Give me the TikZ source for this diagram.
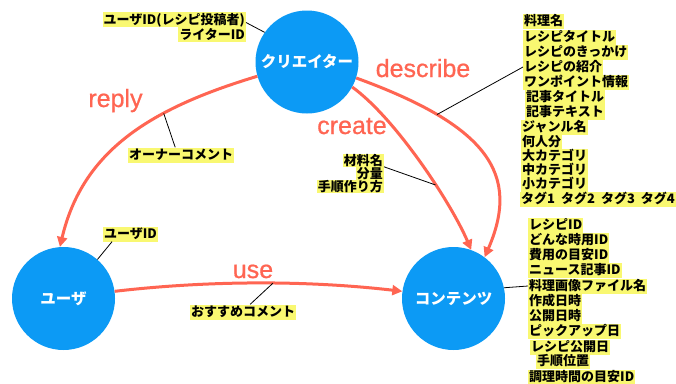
\documentclass[tikz,border=0pt]{standalone}
\usepackage{fontspec}
\setmainfont{Noto Sans CJK JP}
\newfontfamily\latfont[FakeBold=0.7]{Liberation Sans}
\usetikzlibrary{arrows.meta}
\definecolor{cblue}{HTML}{0C9AF5}
\definecolor{cred}{HTML}{FF6552}
\definecolor{cyel}{HTML}{F9F871}
\begin{document}
\begin{tikzpicture}[x=1pt,y=-1pt,
  ent/.style={circle, fill=cblue, minimum size=103pt, inner sep=0pt, text=white,
    font=\bfseries\fontsize{15.5}{17}\selectfont},
  rel/.style={draw=cred, line width=3pt, -{Triangle[length=10pt,width=10pt]}},
  rlab/.style={text=cred, font=\latfont\fontsize{25}{28}\selectfont, anchor=base, inner sep=0pt},
  attr/.style={fill=cyel, font=\bfseries\fontsize{13}{15}\selectfont, inner xsep=1pt,
    inner ysep=1pt, text height=11pt, text depth=2pt},
  attrw/.style={attr, anchor=west},
  attre/.style={attr, anchor=east},
  tight/.style={attr, anchor=east, inner ysep=0pt},
  lead/.style={draw=black, line width=0.8pt}]
\useasboundingbox (0,0) rectangle (676,383);
\fill[white] (0,0) rectangle (676,383);

% entities
\node[ent] (creator) at (307,62) {クリエイター};
\node[ent] (user) at (63.5,298.5) {ユーザ};
\node[ent] (content) at (453.5,298.5) {コンテンツ};

% relations
\draw[rel] (creator.196) .. controls +(-106,32) and +(23,-97) .. coordinate[pos=0.335] (pr) (user.94);
\draw[rel] (creator.331) .. controls +(43,31) and +(-20,-47) .. coordinate[pos=0.62] (pc) (content.70);
\draw[rel] (creator.342) .. controls +(132,48) and +(36,-83) .. coordinate[pos=0.25] (pd) (content.53);
\draw[rel] (user.8) .. controls +(95,-11) and +(-95,-11) .. coordinate[pos=0.55] (pu) (content.172);

\node[rlab] (lreply) at (115.5,107) {reply};
\node[rlab] (ldescribe) at (423,77) {describe};
\node[rlab] (lcreate) at (352,134) {create};
\node[rlab] (luse) at (253,278) {use};

% creator attributes
\node[attre] (a1) at (246,19.5) {ユーザID(レシピ投稿者)};
\node[attre] (a2) at (246,34.5) {ライターID};

% reply attribute
\node[attrw] (owner) at (128,155) {オーナーコメント};
% user attribute
\node[attrw] (uid) at (103,234) {ユーザID};
% use attribute
\node[attrw] (rec) at (190,312) {おすすめコメント};

% create attributes
\node[tight] (m1) at (384,160.5) {材料名};
\node[tight] (bun) at (384,173.5) {分量};
\node[tight] (m3) at (384,186.5) {手順作り方};

% describe attributes
\node[attrw] (t1) at (523,21.3) {料理名};
\node[attrw] (t2) at (523,37) {レシピタイトル};
\node[attrw] (t3) at (523,52) {レシピのきっかけ};
\node[attrw] (t4) at (523,67) {レシピの紹介};
\node[attrw] (t5) at (523,82) {ワンポイント情報};
\node[attrw] (t6) at (525,97) {記事タイトル};
\node[attrw] (t7) at (525,112) {記事テキスト};
\node[attrw] (t8) at (521,127) {ジャンル名};
\node[attrw] (t9) at (521,142) {何人分};
\node[attrw] (t10) at (521,156) {大カテゴリ};
\node[attrw] (t11) at (521,170) {中カテゴリ};
\node[attrw] (t12) at (521,184) {小カテゴリ};
\node[attrw] (t13) at (520,199) {タグ1\hspace{6pt}タグ2\hspace{6pt}タグ3\hspace{6pt}タグ4};

% content attributes
\node[attrw] (b1) at (528,225) {レシピID};
\node[attrw] (b2) at (528,240) {どんな時用ID};
\node[attrw] (b3) at (528,255) {費用の目安ID};
\node[attrw] (b4) at (528,270) {ニュース記事ID};
\node[attrw] (b5) at (528,286) {料理画像ファイル名};
\node[attrw] (b6) at (528,301) {作成日時};
\node[attrw] (b7) at (528,316) {公開日時};
\node[attrw] (b8) at (528,331) {ピックアップ日};
\node[attrw] (b9) at (530,347) {レシピ公開日};
\node[attrw] (b10) at (536,361) {手順位置};
\node[attrw] (b11) at (528,377) {調理時間の目安ID};

% leader lines
\draw[lead] ([yshift=-3pt]a1.east) -- (creator.145);
\draw[lead] (pr) -- ([xshift=-6pt]owner.north);
\draw[lead] ([xshift=9pt]uid.south west) -- (user.49);
\draw[lead] (pu) -- ([xshift=7pt]rec.north);
\draw[lead] (pd) -- (t4.west);
\draw[lead] (pc) -- (bun.north east);
\draw[lead] (content.12) -- (b5.west);
\end{tikzpicture}
\end{document}
